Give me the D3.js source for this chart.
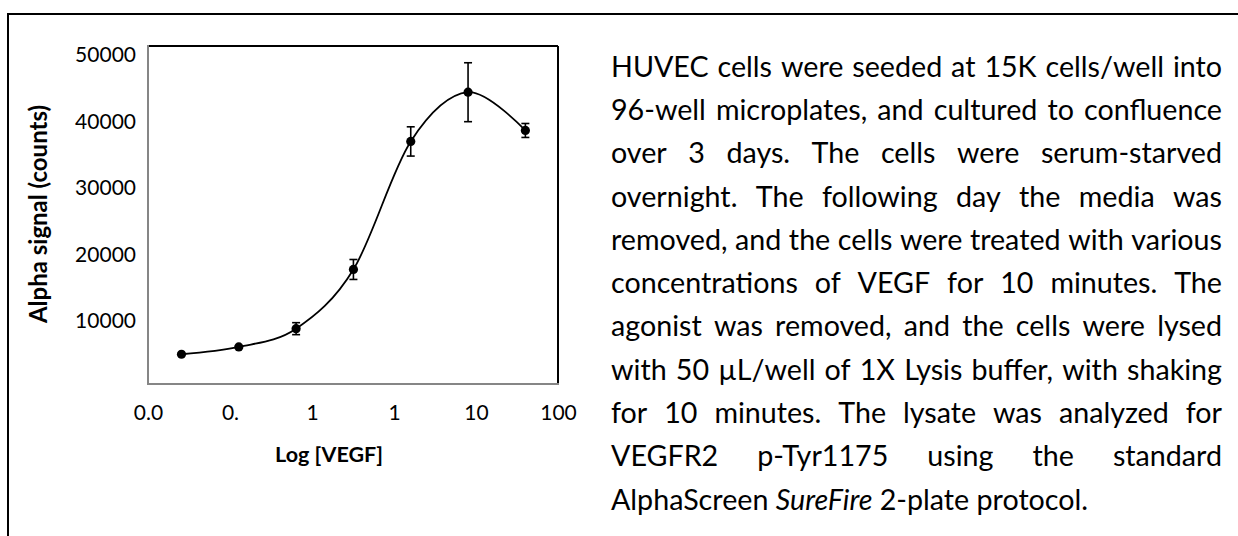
<!DOCTYPE html>
<html><head><meta charset="utf-8">
<script src="https://cdn.jsdelivr.net/npm/d3@7"></script>
<style>html,body{margin:0;padding:0;background:#fff;} svg{display:block;}</style>
</head><body>
<svg id="c" width="1238" height="536"></svg>
<script>
// ---- data ----
const concentrations = [0.00256, 0.0128, 0.064, 0.32, 1.6, 8, 40];
const signal = [5000, 6100, 8850, 17750, 37000, 44400, 38650];
const signalErr = [0, 0, 900, 1500, 2200, 4430, 1050];
const xTickValues = [0.001, 0.01, 0.1, 1, 10, 100];
const xTickLabels = ["0.0", "0.", "1", "1", "10", "100"];
const yTickValues = [10000, 20000, 30000, 40000, 50000];
const yTitle = "Alpha signal (counts)";
const xTitle = "Log [VEGF]";
const paragraphLines = [
  "HUVEC cells were seeded at 15K cells/well into",
  "96-well microplates, and cultured to confluence",
  "over 3 days. The cells were serum-starved",
  "overnight. The following day the media was",
  "removed, and the cells were treated with various",
  "concentrations of VEGF for 10 minutes. The",
  "agonist was removed, and the cells were lysed",
  "with 50 \u00B5L/well of 1X Lysis buffer, with shaking",
  "for 10 minutes. The lysate was analyzed for",
  "VEGFR2 p-Tyr1175 using the standard"
];
const lastLineParts = [
  {t: "AlphaScreen ", italic: false},
  {t: "SureFire", italic: true},
  {t: " 2-plate protocol.", italic: false}
];

// ---- layout ----
const FONT = "Lato, 'Open Sans', sans-serif";
const svg = d3.select("#c");
const L = 148, R = 558, T = 46, B = 384;
const x = d3.scaleLog().domain([0.001, 100]).range([L, R]);
const y = d3.scaleLinear().domain([530, 51350]).range([B, T]);

svg.append("rect").attr("width", 1238).attr("height", 536).attr("fill", "#fff");
// outer frame (cropped on right and bottom)
svg.append("rect").attr("x", 8).attr("y", 14).attr("width", 1400).attr("height", 700)
  .attr("fill", "none").attr("stroke", "#000").attr("stroke-width", 2);

// plot borders
svg.append("line").attr("x1", L).attr("x2", R).attr("y1", T).attr("y2", T).attr("stroke", "#000").attr("stroke-width", 2);
svg.append("line").attr("x1", R).attr("x2", R).attr("y1", T).attr("y2", B).attr("stroke", "#000").attr("stroke-width", 2);
svg.append("line").attr("x1", L).attr("x2", L).attr("y1", T - 1).attr("y2", B + 1).attr("stroke", "#868686").attr("stroke-width", 2);
svg.append("line").attr("x1", L - 1).attr("x2", R + 1).attr("y1", B).attr("y2", B).attr("stroke", "#868686").attr("stroke-width", 2);

// axes
const yAxis = svg.append("g").attr("transform", `translate(${L},0)`)
  .call(d3.axisLeft(y).tickValues(yTickValues).tickFormat(d3.format("d")).tickSize(0).tickPadding(12));
yAxis.select(".domain").remove();
yAxis.selectAll("text").attr("font-family", FONT).attr("font-size", 21).attr("fill", "#000");

const xAxis = svg.append("g").attr("transform", `translate(0,${B})`)
  .call(d3.axisBottom(x).tickValues(xTickValues).tickFormat((d, i) => xTickLabels[i]).tickSize(0).tickPadding(21));
xAxis.select(".domain").remove();
xAxis.selectAll("text").attr("font-family", FONT).attr("font-size", 21).attr("fill", "#000");

// titles
svg.append("text").attr("transform", "translate(39,214) rotate(-90)")
  .attr("text-anchor", "middle").attr("dy", "0.35em")
  .attr("font-family", FONT).attr("font-weight", "bold").attr("font-size", 24).text(yTitle);
svg.append("text").attr("x", 329).attr("y", 454).attr("text-anchor", "middle").attr("dy", "0.35em")
  .attr("font-family", FONT).attr("font-weight", "bold").attr("font-size", 21.5).text(xTitle);

// data
const pts = concentrations.map((c, i) => ({c, s: signal[i], e: signalErr[i]}));
const line = d3.line().x(d => x(d.c)).y(d => y(d.s)).curve(d3.curveCatmullRom.alpha(0));
svg.append("path").datum(pts).attr("d", line).attr("fill", "none").attr("stroke", "#000").attr("stroke-width", 1.8);

const eb = svg.append("g").attr("stroke", "#000").attr("stroke-width", 1.6);
pts.filter(d => d.e > 0).forEach(d => {
  const cx = x(d.c);
  eb.append("line").attr("x1", cx).attr("x2", cx).attr("y1", y(d.s + d.e)).attr("y2", y(d.s - d.e));
  eb.append("line").attr("x1", cx - 4).attr("x2", cx + 4).attr("y1", y(d.s + d.e)).attr("y2", y(d.s + d.e));
  eb.append("line").attr("x1", cx - 4).attr("x2", cx + 4).attr("y1", y(d.s - d.e)).attr("y2", y(d.s - d.e));
});
svg.append("g").selectAll("circle").data(pts).join("circle")
  .attr("cx", d => x(d.c)).attr("cy", d => y(d.s)).attr("r", 4.6).attr("fill", "#000");

// paragraph (justified)
const PX0 = 611, PX1 = 1222, PY0 = 68, PDY = 43.3;
const W = PX1 - PX0;
const meas = svg.append("text").attr("font-family", FONT).attr("font-size", 100).style("white-space", "pre");
meas.text(paragraphLines[4]);
const w100 = meas.node().getComputedTextLength();
const fs = Math.min(34, 100 * W * 0.995 / w100);
meas.attr("font-size", fs);
const tg = svg.append("g").attr("font-family", FONT).attr("font-size", fs).attr("fill", "#000");
paragraphLines.forEach((ln, i) => {
  const words = ln.split(" ");
  const widths = words.map(w => { meas.text(w); return meas.node().getComputedTextLength(); });
  const total = d3.sum(widths);
  const gap = (W - total) / (words.length - 1);
  let cx = PX0;
  const by = PY0 + i * PDY + 0.3 * fs;
  words.forEach((w, j) => {
    tg.append("text").attr("x", cx).attr("y", by).text(w);
    cx += widths[j] + gap;
  });
});
const last = tg.append("text").attr("x", PX0).attr("y", PY0 + paragraphLines.length * PDY + 0.3 * fs).style("white-space", "pre");
lastLineParts.forEach(p => last.append("tspan").attr("font-style", p.italic ? "italic" : "normal").text(p.t));
meas.remove();
</script>
</body></html>
